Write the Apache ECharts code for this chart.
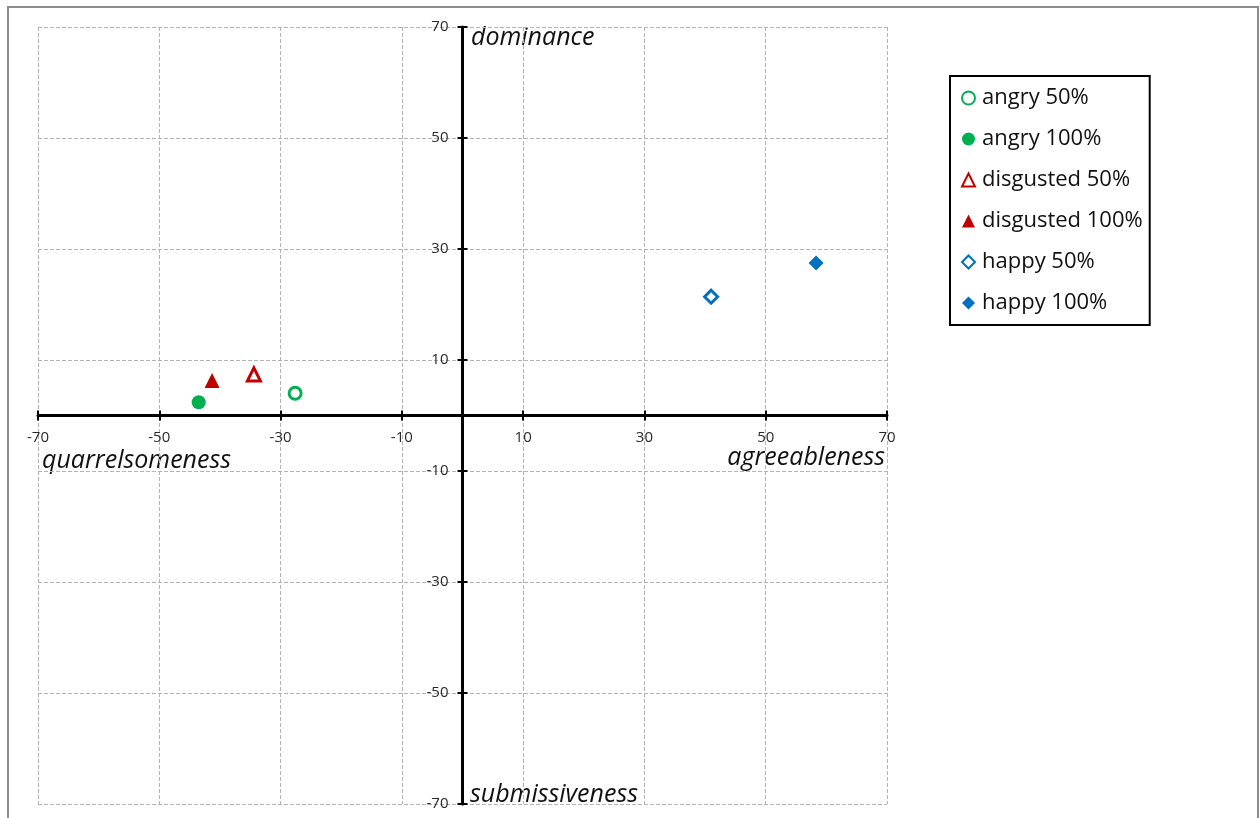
<!DOCTYPE html>
<html><head><meta charset="utf-8">
<script src="https://cdn.jsdelivr.net/npm/echarts@6/dist/echarts.min.js"></script>
<style>html,body{margin:0;padding:0;background:#fff}#c{width:1260px;height:818px}</style>
</head><body><div id="c"></div>
<script>
const seriesNames = ['angry 50%','angry 100%','disgusted 50%','disgusted 100%','happy 50%','happy 100%'];
const angry50 = [[-27.6, 4.0]];
const angry100 = [[-43.5, 2.4]];
const disgusted50 = [[-34.4, 7.4]];
const disgusted100 = [[-41.3, 6.3]];
const happy50 = [[41.0, 21.4]];
const happy100 = [[58.3, 27.5]];
const axisMin = -70, axisMax = 70, axisStep = 20;
const axisNames = {dominance:'dominance', submissiveness:'submissiveness', quarrelsomeness:'quarrelsomeness', agreeableness:'agreeableness'};

const GREEN='#00B050', RED='#C00000', BLUE='#0070C0';
function mk(name, data, symbol, color, hollow, size){
  return {name, type:'scatter', data, symbol, symbolSize:size,
    itemStyle: hollow ? {color:'#fff', borderColor:color, borderWidth:3, opacity:1} : {color, opacity:1},
    emphasis:{disabled:true}};
}
const font = '"Open Sans", "Noto Sans", sans-serif';
function axis(position, main, offset){
  const isX = position==='bottom' || position==='top';
  return {
    type:'value', min:axisMin, max:axisMax, interval:axisStep,
    position: position, offset: offset||0,
    axisLine:{onZero:false, show:main, lineStyle:{color:'#000', width:3}},
    axisTick:{show:true, inside:false, length:5, lineStyle:{color:'#000', width:2}},
    splitLine:{show:main, lineStyle:{color:'#b4b4b4', type:[4,2], width:1}},
    axisLabel:{show:main, color:'#2a2a2a', fontSize:15, fontFamily:font, margin: isX ? 15 : 14}
  };
}
const chart = echarts.init(document.getElementById('c'));
const gridBox = {left:38, right:373, top:27, bottom:14};
const nameFont = 'italic 25px ' + font;
function build(off){
  return {
    animation:false,
    backgroundColor:'#fff',
    grid:{left:gridBox.left, right:gridBox.right, top:gridBox.top, bottom:gridBox.bottom, containLabel:false, outerBoundsMode:'none'},
    xAxis:[axis('bottom', true, off.bottom), axis('top', false, off.top)],
    yAxis:[axis('left', true, off.left), axis('right', false, off.right)],
    legend:{orient:'vertical', left:950, top:76, padding:[11, 7, 11, 11], itemGap:19,
      itemWidth:13, itemHeight:13, borderColor:'#000', borderWidth:2,
      textStyle:{fontSize:22, lineHeight:22, fontFamily:font, color:'#111', padding:[0,0,0,2]},
      data:seriesNames},
    graphic:[
      {type:'rect', shape:{x:8, y:7, width:1250, height:820}, style:{fill:'none', stroke:'#8c8c8c', lineWidth:2}, silent:true},
      {type:'text', left:471, top:25, style:{text:axisNames.dominance, font:nameFont, fill:'#111'}},
      {type:'text', left:470, top:782, style:{text:axisNames.submissiveness, font:nameFont, fill:'#111'}},
      {type:'text', left:42, top:448, style:{text:axisNames.quarrelsomeness, font:nameFont, fill:'#111'}},
      {type:'text', right:1260-885, top:445, style:{text:axisNames.agreeableness, font:nameFont, fill:'#111'}}
    ],
    series:[
      mk(seriesNames[0], angry50, 'circle', GREEN, true, 12),
      mk(seriesNames[1], angry100, 'circle', GREEN, false, 14),
      mk(seriesNames[2], disgusted50, 'triangle', RED, true, 13),
      mk(seriesNames[3], disgusted100, 'triangle', RED, false, 15),
      mk(seriesNames[4], happy50, 'diamond', BLUE, true, 13),
      mk(seriesNames[5], happy100, 'diamond', BLUE, false, 15)
    ].map(s=>Object.assign(s,{xAxisIndex:0, yAxisIndex:0}))
  };
}
chart.setOption(build({bottom:0, top:0, left:0, right:0}));
// move axes (line, ticks, labels) onto the zero lines
const origin = chart.convertToPixel({xAxisIndex:0, yAxisIndex:0}, [0, 0]);
const lo = chart.convertToPixel({xAxisIndex:0, yAxisIndex:0}, [axisMin, axisMin]);
const hi = chart.convertToPixel({xAxisIndex:0, yAxisIndex:0}, [axisMax, axisMax]);
chart.setOption(build({
  bottom: -(lo[1] - origin[1]),
  top: -(origin[1] - hi[1]),
  left: -(origin[0] - lo[0]),
  right: -(hi[0] - origin[0])
}), true);
</script></body></html>
